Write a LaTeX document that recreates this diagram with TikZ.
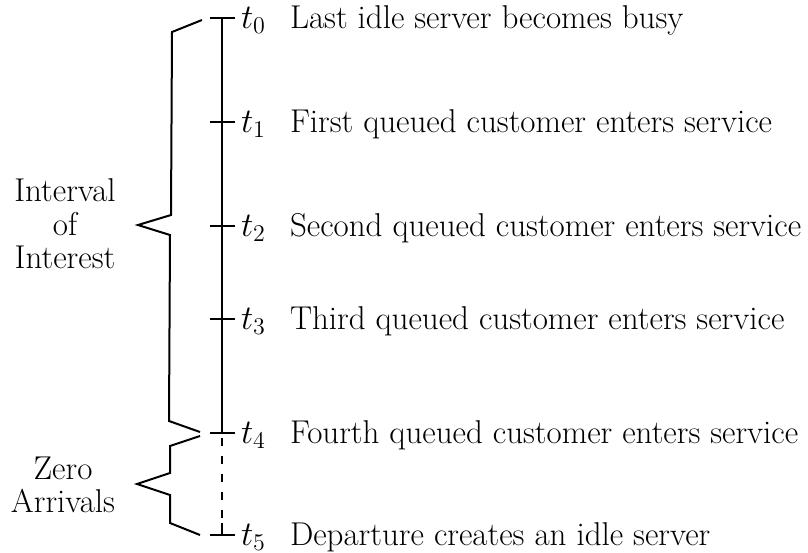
\documentclass[tikz,border=0pt]{standalone}
\usetikzlibrary{calc}
\begin{document}
\begin{tikzpicture}[x=0.5pt,y=-0.5pt,line width=1pt,
  tickmark/.style={line width=1pt},
  timelabel/.style={anchor=base west,inner sep=0pt,font=\fontsize{16.5}{17}\selectfont},
  eventtext/.style={anchor=base west,inner sep=0pt,font=\fontsize{16.5}{17}\selectfont},
  sidelabel/.style={align=center,inner sep=0pt,font=\fontsize{16.5}{16.8}\selectfont},
  bracepath/.style={line width=1pt,line join=miter}]
\useasboundingbox (0,0) rectangle (808,552);

% time axis points
\coordinate (T0) at (222,18);
\coordinate (T1) at (222,122);
\coordinate (T2) at (222,226);
\coordinate (T3) at (222,319);
\coordinate (T4) at (222,433);
\coordinate (T5) at (222,535);

% axis: solid up to t4, dashed to t5
\draw (T0) -- (T4);
\draw[dash pattern=on 4pt off 5pt,dash phase=-2.5pt] (T4) -- (T5);

% tick marks
\foreach \p in {T0,T1,T2,T3,T4,T5}
  \draw[tickmark] ($(\p)+(-12,0)$) -- ($(\p)+(13,0)$);
\draw ($(T5)+(0,-12)$) -- (T5);

% time labels and events
\foreach \p/\i/\txt in {T0/0/Last idle server becomes busy,
                        T1/1/First queued customer enters service,
                        T2/2/Second queued customer enters service,
                        T3/3/Third queued customer enters service,
                        T4/4/Fourth queued customer enters service,
                        T5/5/Departure creates an idle server}{
  \node[timelabel] (l\i) at ($(\p)+(18,10)$) {$t_{\i}$};
  \node[eventtext] (e\i) at ($(\p)+(67,10)$) {\txt};
}

% brace over t0..t4
\draw[bracepath] ($(T0)+(-20,2)$) -- ($(T0)+(-50,14)$) -- ($(T2)+(-51,-11)$)
  -- ($(T2)+(-84,-1)$) -- ($(T2)+(-52,9)$) -- ($(T4)+(-53,-12)$) -- ($(T4)+(-22,-1)$);
% brace over t4..t5
\draw[bracepath] ($(T4)+(-22,3)$) -- ($(T4)+(-52,13)$) -- ($(T4)+(-52,40)$)
  -- ($(T4)+(-85,51)$) -- ($(T4)+(-52,62)$) -- ($(T5)+(-52,-12)$) -- ($(T5)+(-22,0)$);

\node[sidelabel] (interest) at (65,224) {Interval\\of\\Interest};
\node[sidelabel] (zero) at (63,485) {Zero\\Arrivals};
\end{tikzpicture}
\end{document}
